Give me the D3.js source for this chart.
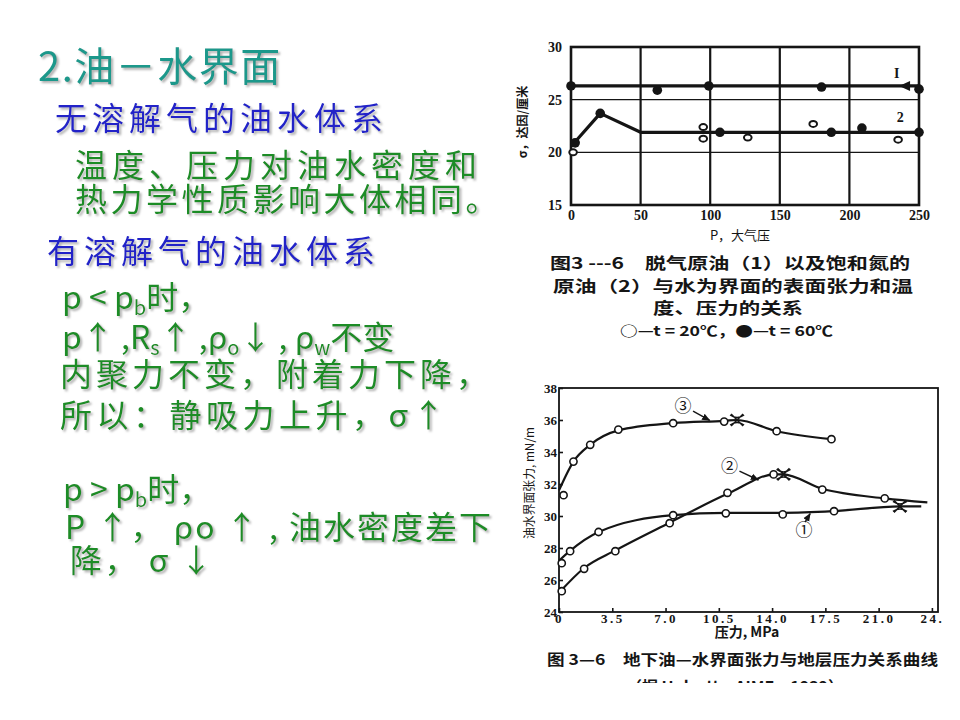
<!DOCTYPE html>
<html>
<head>
<meta charset="utf-8">
<script src="https://cdn.jsdelivr.net/npm/d3@7"></script>
<style>
  body { margin: 0; background: #fff; }
  text { font-family: "Noto Sans CJK SC", "Noto Sans", sans-serif; }
  .scan text { fill: #151515; }
  .num { font-family: "Liberation Serif", "DejaVu Serif", serif !important; font-weight: bold; }
</style>
</head>
<body>
<div id="slide"></div>
<script>
const W = 960, H = 720;
const INK = "#151515";

// ---------- slide text ----------
const TITLE = "2.油－水界面";
const BLUE = "#2024c8", GREEN = "#1f8c26", TEAL = "#1f988b";
// each line: x, baseline, colour, letter spacing, segments ([text] or [text, "sub"])
const textLines = [
  { x: 55, y: 130, color: BLUE,  ls: 5, segs: [["无溶解气的油水体系"]] },
  { x: 75, y: 177, color: GREEN, ls: 5, segs: [["温度、压力对油水密度和"]] },
  { x: 75, y: 211, color: GREEN, ls: 3.5, segs: [["热力学性质影响大体相同。"]] },
  { x: 47, y: 263, color: BLUE,  ls: 5, segs: [["有溶解气的油水体系"]] },
  { x: 62, y: 309, color: GREEN, ls: 0, segs: [["p < p"], ["b", "sub"], ["时，"]] },
  { x: 62, y: 349, color: GREEN, ls: 0, segs: [["p↑ ,R"], ["s", "sub"], ["↑ ,ρ"], ["o", "sub"], ["↓ , ρ"], ["w", "sub"], ["不变"]] },
  { x: 60, y: 386, color: GREEN, ls: 4, segs: [["内聚力不变，附着力下降，"]] },
  { x: 60, y: 427, color: GREEN, ls: 4.5, segs: [["所以：静吸力上升，σ↑"]] },
  { x: 63, y: 501, color: GREEN, ls: 0, segs: [["p > p"], ["b", "sub"], ["时，"]] },
  { x: 65, y: 539, color: GREEN, ls: 2, segs: [["P ↑， ρo ↑ , 油水密度差下"]] },
  { x: 70, y: 572, color: GREEN, ls: 2.5, segs: [["降， σ ↓"]] }
];

// ---------- chart 1: surface tension vs pressure (atm) ----------
const c1TicksX = [0, 50, 100, 150, 200, 250];
const c1TicksY = [15, 20, 25, 30];
const c1GridX = [50, 100, 150, 200];
const c1GridY = [20, 25];
const c1Line1 = [[0, 26.3], [250, 26.3]];
const c1Line2 = [[0, 20.6], [3, 21.0], [21, 23.7], [50, 21.9], [250, 21.9]];
const c1Filled = [[0, 26.3], [62, 25.9], [99, 26.3], [180, 26.2], [250, 26.0],
                  [3, 20.9], [21, 23.7], [107, 21.9], [187, 21.9], [209, 22.3], [250, 21.9]];
const c1Open = [[1.5, 20.0], [95, 22.4], [95, 21.3], [127, 21.4], [174, 22.7], [235, 21.2]];
const c1Labels = [{ t: "I", p: [232, 27.1] }, { t: "2", p: [234, 22.9] }];
const c1Arrow = [240, 26.3];
const c1Caption = ["图3 ---6　脱气原油（1）以及饱和氮的", "原油（2）与水为界面的表面张力和温", "度、压力的关系"];
const c1Legend = "○—t = 20℃，●—t = 60℃";

// ---------- chart 2: interfacial tension vs pressure (MPa) ----------
const c2TicksX = [0, 3.5, 7.0, 10.5, 14.0, 17.5, 21.0, 24.5];
const c2TickLabelsX = ["0", "3.5", "7.0", "10.5", "14.0", "17.5", "21.0", "24."];
const c2TicksY = [24, 26, 28, 30, 32, 34, 36, 38];
const c2Line3 = [[0, 31.6], [0.95, 33.4], [2.05, 34.45], [3.9, 35.35], [7.5, 35.8], [10.9, 35.95], [11.7, 36.0], [14.3, 35.3], [17.9, 34.8]];
const c2Pts3 = [[0.3, 31.3], [0.95, 33.4], [2.05, 34.45], [3.9, 35.4], [7.5, 35.8], [10.85, 35.9], [14.3, 35.3], [17.9, 34.8]];
const c2Line2 = [[0, 25.2], [1.65, 26.75], [3.7, 27.85], [7.3, 29.6], [11.1, 31.4], [14.2, 32.6], [14.7, 32.6], [17.3, 31.7], [21.4, 31.1], [24.2, 30.85]];
const c2Pts2 = [[0.18, 25.3], [1.65, 26.7], [3.7, 27.8], [7.27, 29.55], [11.07, 31.45], [14.1, 32.6], [17.3, 31.65], [21.4, 31.1]];
const c2Line1 = [[0, 27.2], [0.7, 27.8], [2.6, 29.0], [7.5, 30.05], [11, 30.2], [14.7, 30.2], [18, 30.3], [22.4, 30.6], [23.8, 30.6]];
const c2Pts1 = [[0.18, 27.05], [0.73, 27.8], [2.6, 29.0], [7.5, 30.05], [10.96, 30.17], [14.7, 30.1], [18.07, 30.3]];
const c2Crosses = [[11.7, 36.0], [14.75, 32.6], [22.4, 30.6]];
// circled number, label position, arrow tip
const c2Notes = [
  { t: "③", p: [8.15, 36.8], tip: [9.9, 35.98] },
  { t: "②", p: [11.2, 33.06], tip: [13.1, 32.25] },
  { t: "①", p: [16.1, 29.06], tip: [16.5, 30.15] }
];
const c2Caption = "图 3—6　地下油—水界面张力与地层压力关系曲线";
const c2Source = "（据 Holcott，AIME，1939）";

// ---------- drawing ----------
const svg = d3.select("#slide").append("svg").attr("width", W).attr("height", H);
const defs = svg.append("defs");
defs.append("filter").attr("id", "shadow").attr("x", "-5%").attr("y", "-20%").attr("width", "110%").attr("height", "140%")
  .append("feDropShadow").attr("dx", 2).attr("dy", 2).attr("stdDeviation", 0.8).attr("flood-color", "#b0b0b0");
defs.append("clipPath").attr("id", "cut").append("rect").attr("x", 0).attr("y", 0).attr("width", W).attr("height", 683);
defs.append("marker").attr("id", "head").attr("viewBox", "0 0 10 10").attr("refX", 9).attr("refY", 5)
  .attr("markerWidth", 6).attr("markerHeight", 6).attr("orient", "auto")
  .append("path").attr("d", "M0,1L10,5L0,9Z").attr("fill", INK);

svg.append("text").attr("x", 38).attr("y", 81).attr("font-size", 40).attr("letter-spacing", 1.5)
  .attr("fill", TEAL).attr("filter", "url(#shadow)").text(TITLE);

textLines.forEach(line => {
  const t = svg.append("text").attr("x", line.x).attr("y", line.y)
    .attr("font-size", 32).attr("fill", line.color).attr("letter-spacing", line.ls)
    .attr("filter", "url(#shadow)");
  let wasSub = false;
  line.segs.forEach(s => {
    const ts = t.append("tspan").text(s[0]);
    if (s[1] === "sub") { ts.attr("font-size", 20).attr("dy", 6); wasSub = true; }
    else if (wasSub) { ts.attr("dy", -6); wasSub = false; }
  });
});

// chart 1
const x1 = d3.scaleLinear().domain([0, 250]).range([571, 919]);
const y1 = d3.scaleLinear().domain([15, 30]).range([205, 47]);
const g1 = svg.append("g").attr("class", "scan");

g1.selectAll(".vg").data(c1GridX).join("line").attr("class", "vg")
  .attr("x1", d => x1(d)).attr("x2", d => x1(d)).attr("y1", y1(30)).attr("y2", y1(15))
  .attr("stroke", INK).attr("stroke-width", 2.2);
g1.selectAll(".hg").data(c1GridY).join("line").attr("class", "hg")
  .attr("x1", x1(0)).attr("x2", x1(250)).attr("y1", d => y1(d)).attr("y2", d => y1(d))
  .attr("stroke", INK).attr("stroke-width", 1.4);
g1.append("rect").attr("x", x1(0)).attr("y", y1(30)).attr("width", x1(250) - x1(0)).attr("height", y1(15) - y1(30))
  .attr("fill", "none").attr("stroke", INK).attr("stroke-width", 2.6);

const ax1 = g1.append("g").attr("transform", `translate(0,${y1(15)})`)
  .call(d3.axisBottom(x1).tickValues(c1TicksX).tickSize(0).tickPadding(5));
const ay1 = g1.append("g").attr("transform", `translate(${x1(0) - 6},0)`)
  .call(d3.axisLeft(y1).tickValues(c1TicksY).tickSize(0).tickPadding(3));
[ax1, ay1].forEach(a => {
  a.select(".domain").remove();
  a.selectAll("text").attr("class", "num").attr("font-size", 14).attr("fill", INK);
});

const lin1 = d3.line().x(d => x1(d[0])).y(d => y1(d[1]));
[c1Line1, c1Line2].forEach(l => g1.append("path").attr("d", lin1(l)).attr("fill", "none")
  .attr("stroke", INK).attr("stroke-width", 3.2).attr("stroke-linejoin", "round"));
g1.selectAll(".f1").data(c1Filled).join("circle").attr("class", "f1")
  .attr("cx", d => x1(d[0])).attr("cy", d => y1(d[1])).attr("r", 4.8).attr("fill", INK);
g1.selectAll(".o1").data(c1Open).join("ellipse").attr("class", "o1")
  .attr("cx", d => x1(d[0])).attr("cy", d => y1(d[1])).attr("rx", 3.8).attr("ry", 3).attr("fill", "#fff")
  .attr("stroke", INK).attr("stroke-width", 2);
g1.append("path").attr("transform", `translate(${x1(c1Arrow[0])},${y1(c1Arrow[1])})`)
  .attr("d", "M-6,0L5,-5L5,5Z").attr("fill", INK);
g1.selectAll(".lb1").data(c1Labels).join("text").attr("class", "lb1 num")
  .attr("x", d => x1(d.p[0])).attr("y", d => y1(d.p[1])).attr("font-size", 14).text(d => d.t);

g1.append("text").attr("x", 524).attr("y", 122).attr("transform", "rotate(-90,524,122)")
  .attr("text-anchor", "middle").attr("dominant-baseline", "middle").attr("font-size", 12).attr("font-weight", "bold")
  .text("σ，达因/厘米");
g1.append("text").attr("x", 740).attr("y", 240).attr("text-anchor", "middle").attr("font-size", 13)
  .text("P，大气压");
const capX1 = [[550, 360], [553, 360], [653, 150]];
c1Caption.forEach((c, i) => g1.append("text").attr("x", capX1[i][0]).attr("y", 269 + i * 22.5)
  .attr("font-size", 16).attr("font-weight", "bold").attr("textLength", capX1[i][1])
  .attr("lengthAdjust", "spacingAndGlyphs").text(c));
g1.append("text").attr("x", 620).attr("y", 336).attr("font-size", 14).attr("font-weight", "bold")
  .attr("textLength", 213).attr("lengthAdjust", "spacingAndGlyphs").text(c1Legend);

// chart 2
const x2 = d3.scaleLinear().domain([0, 24.9]).range([559, 938]);
const y2 = d3.scaleLinear().domain([24, 38]).range([612, 388]);
const g2 = svg.append("g").attr("class", "scan");

g2.append("rect").attr("x", x2(0)).attr("y", y2(38)).attr("width", x2(24.9) - x2(0)).attr("height", y2(24) - y2(38))
  .attr("fill", "none").attr("stroke", INK).attr("stroke-width", 1.8);
const ax2 = g2.append("g").attr("transform", `translate(0,${y2(24)})`)
  .call(d3.axisBottom(x2).tickValues(c2TicksX).tickSize(-4).tickPadding(2)
    .tickFormat((d, i) => c2TickLabelsX[i]));
const ay2 = g2.append("g").attr("transform", `translate(${x2(0)},0)`)
  .call(d3.axisLeft(y2).tickValues(c2TicksY).tickSize(-4).tickPadding(2));
[ax2, ay2].forEach(a => {
  a.select(".domain").remove();
  a.selectAll("line").attr("stroke", INK).attr("stroke-width", 1.6);
  a.selectAll("text").attr("class", "num").attr("font-size", 13).attr("fill", INK);
});
ax2.selectAll("text").attr("letter-spacing", 2.5);

const lin2 = d3.line().x(d => x2(d[0])).y(d => y2(d[1])).curve(d3.curveMonotoneX);
[c2Line1, c2Line2, c2Line3].forEach(l => g2.append("path").attr("d", lin2(l)).attr("fill", "none")
  .attr("stroke", INK).attr("stroke-width", 2.2));
g2.selectAll(".o2").data(c2Pts1.concat(c2Pts2, c2Pts3)).join("circle").attr("class", "o2")
  .attr("cx", d => x2(d[0])).attr("cy", d => y2(d[1])).attr("r", 3.6).attr("fill", "#fff")
  .attr("stroke", INK).attr("stroke-width", 1.6);
g2.selectAll(".x2").data(c2Crosses).join("path").attr("class", "x2")
  .attr("transform", d => `translate(${x2(d[0])},${y2(d[1])})`)
  .attr("d", "M-7,-5Q0,0,7,-5M-7,5Q0,0,7,5M-6,-6L6,6M-6,6L6,-6").attr("fill", "none")
  .attr("stroke", INK).attr("stroke-width", 1.5);
g2.selectAll(".nl").data(c2Notes).join("line").attr("class", "nl")
  .attr("x1", d => x2(d.p[0]) + (d.t === "①" ? 1 : 10)).attr("y1", d => y2(d.p[1]) + (d.t === "①" ? -9 : 4))
  .attr("x2", d => x2(d.tip[0])).attr("y2", d => y2(d.tip[1]))
  .attr("stroke", INK).attr("stroke-width", 1.4).attr("marker-end", "url(#head)");
g2.selectAll(".nt").data(c2Notes).join("text").attr("class", "nt")
  .attr("x", d => x2(d.p[0])).attr("y", d => y2(d.p[1])).attr("text-anchor", "middle")
  .attr("dominant-baseline", "middle").attr("font-size", 17).text(d => d.t);

g2.append("text").attr("x", 531).attr("y", 483).attr("transform", "rotate(-90,531,483)")
  .attr("text-anchor", "middle").attr("dominant-baseline", "middle").attr("font-size", 12)
  .attr("textLength", 112).attr("lengthAdjust", "spacingAndGlyphs").text("油水界面张力, mN/m");
g2.append("text").attr("x", 747).attr("y", 637).attr("text-anchor", "middle").attr("font-size", 14)
  .attr("font-weight", "bold").text("压力, MPa");
g2.append("text").attr("x", 547).attr("y", 665).attr("font-size", 15).attr("font-weight", "bold")
  .attr("textLength", 391).attr("lengthAdjust", "spacingAndGlyphs").text(c2Caption);
g2.append("text").attr("x", 626).attr("y", 692).attr("font-size", 15).attr("font-weight", "bold")
  .attr("clip-path", "url(#cut)").attr("textLength", 218).attr("lengthAdjust", "spacingAndGlyphs").text(c2Source);
</script>
</body>
</html>
